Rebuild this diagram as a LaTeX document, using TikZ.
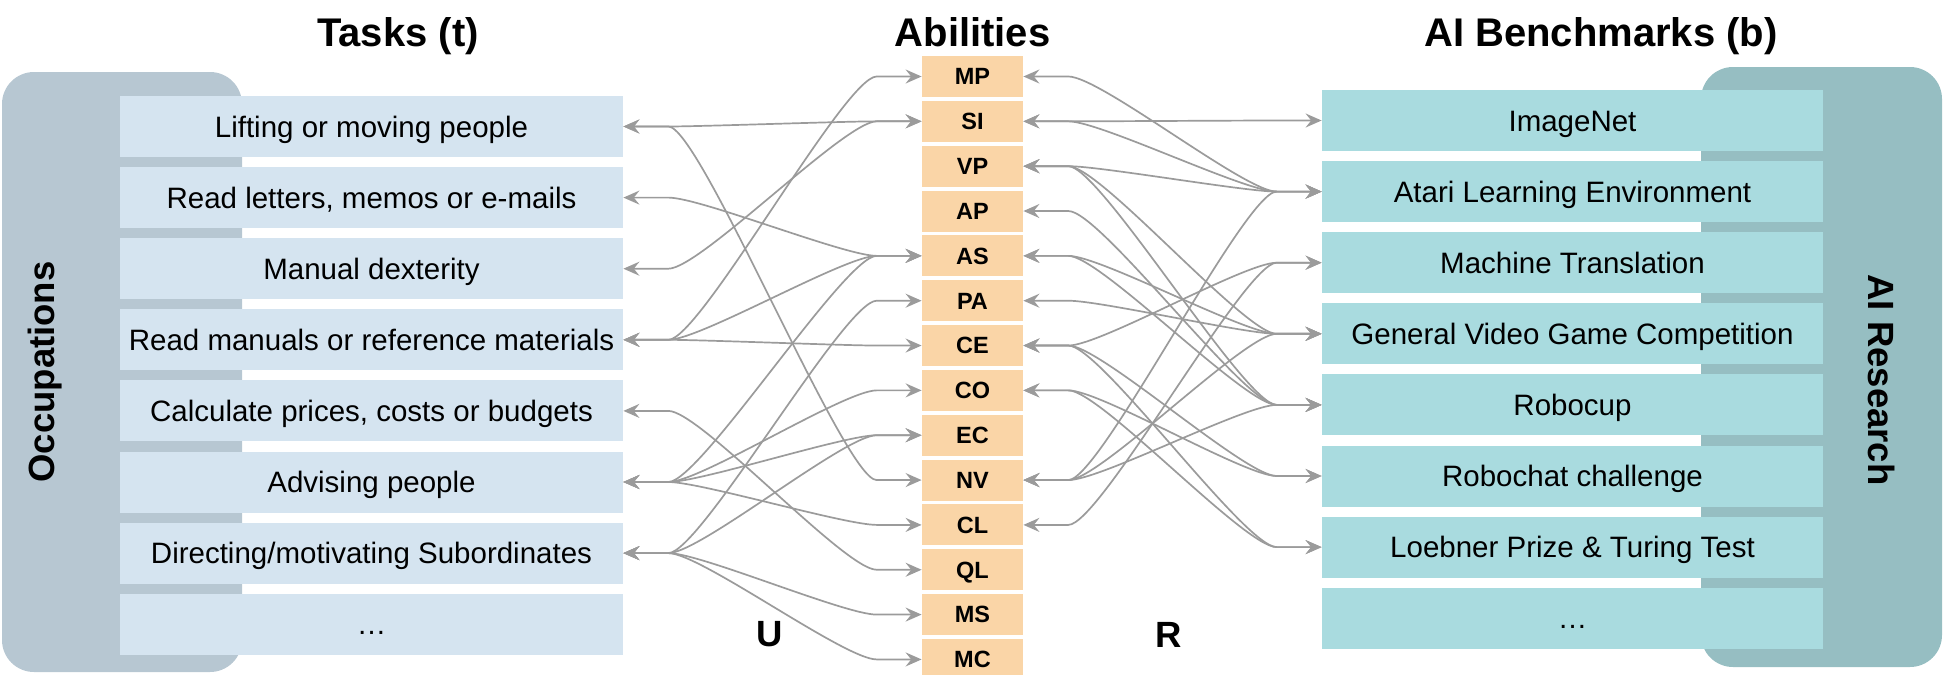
\documentclass[tikz,border=0pt]{standalone}
\usepackage{fontspec}
\setmainfont{Liberation Sans}
\usetikzlibrary{arrows.meta,positioning}

\definecolor{taskblue}{RGB}{213,228,240}
\definecolor{occgray}{RGB}{183,199,210}
\definecolor{abilorange}{RGB}{250,213,167}
\definecolor{benchteal}{RGB}{169,219,223}
\definecolor{airteal}{RGB}{150,190,194}
\definecolor{linkgray}{RGB}{155,155,155}

\begin{document}
\begin{tikzpicture}[
  node distance=4.65pt,
  task/.style={rectangle, fill=taskblue, minimum width=251.5pt, minimum height=30.5pt, inner sep=0pt,
    text height=10.5pt, text depth=0pt, font=\fontsize{14.75}{18}\selectfont},
  bench/.style={task, fill=benchteal, minimum width=250.5pt},
  abil/.style={rectangle, fill=abilorange, minimum width=50.5pt, minimum height=20.5pt, inner sep=0pt,
    text height=8.4pt, text depth=0pt, font=\fontsize{11.75}{14}\selectfont\bfseries},
  title/.style={anchor=base, font=\fontsize{20}{24}\selectfont\bfseries},
  panel/.style={rectangle, rounded corners=16pt, inner sep=0pt},
  side/.style={font=\fontsize{18.25}{22}\selectfont\bfseries},
  link/.style={<->, >={Stealth[length=8pt,width=7pt,inset=2.8pt]}, draw=linkgray, line width=0.85pt,
    to path={-- ++(22.5pt,0) .. controls +(16pt,0) and +(-16pt,0) .. ([xshift=-22.5pt]\tikztotarget) -- (\tikztotarget)}},
]
\useasboundingbox (0,0) rectangle (972.5pt,-337.5pt);

% side panels
\node[panel, fill=occgray, minimum width=120pt, minimum height=300pt] (occ) at (61pt,-186pt) {};
\node[panel, fill=airteal, minimum width=120.5pt, minimum height=300pt] (air) at (910.75pt,-183.5pt) {};
\node[side, rotate=90] (occlabel) at (22.5pt,-186pt) {Occupations};
\node[side, rotate=-90] (airlabel) at (941pt,-190pt) {AI Research};

% titles
\node[title] (ttask) at (199pt,-23.25pt) {Tasks (t)};
\node[title] (tabil) at (486.25pt,-23.25pt) {Abilities};
\node[title] (tbench) at (800.5pt,-23.25pt) {AI Benchmarks (b)};

% tasks
\node[task] (lift) at (185.75pt,-63.25pt) {Lifting or moving people};
\node[task, below=of lift] (letters) {Read letters, memos or e-mails};
\node[task, below=of letters] (dext) {Manual dexterity};
\node[task, below=of dext] (manuals) {Read manuals or reference materials};
\node[task, below=of manuals] (prices) {Calculate prices, costs or budgets};
\node[task, below=of prices] (advise) {Advising people};
\node[task, below=of advise] (direct) {Directing/motivating Subordinates};
\node[task, below=of direct] (tdots) {\dots};

% abilities
\node[abil] (mp) at (486.25pt,-38.25pt) {MP};
\node[abil, below=1.52pt of mp] (si) {SI};
\node[abil, below=1.52pt of si] (vp) {VP};
\node[abil, below=1.52pt of vp] (ap) {AP};
\node[abil, below=1.52pt of ap] (as) {AS};
\node[abil, below=1.52pt of as] (pa) {PA};
\node[abil, below=1.52pt of pa] (ce) {CE};
\node[abil, below=1.52pt of ce] (co) {CO};
\node[abil, below=1.52pt of co] (ec) {EC};
\node[abil, below=1.52pt of ec] (nv) {NV};
\node[abil, below=1.52pt of nv] (cl) {CL};
\node[abil, below=1.52pt of cl] (ql) {QL};
\node[abil, below=1.52pt of ql] (ms) {MS};
\node[abil, below=1.52pt of ms] (mc) {MC};

% benchmarks
\node[bench] (imagenet) at (786.25pt,-60.25pt) {ImageNet};
\node[bench, below=of imagenet] (atari) {Atari Learning Environment};
\node[bench, below=of atari] (mt) {Machine Translation};
\node[bench, below=of mt] (gvgc) {General Video Game Competition};
\node[bench, below=of gvgc] (robocup) {Robocup};
\node[bench, below=of robocup] (robochat) {Robochat challenge};
\node[bench, below=of robochat] (loebner) {Loebner Prize \& Turing Test};
\node[bench, below=of loebner] (bdots) {\dots};

\node[side] (ulabel) at (385pt,-317pt) {U};
\node[side] (rlabel) at (584.5pt,-317.5pt) {R};

% tasks -- abilities
\draw[link] (lift.east) to (si.west);
\draw[link] (lift.east) to (nv.west);
\draw[link] (letters.east) to (as.west);
\draw[link] (dext.east) to (si.west);
\draw[link] (manuals.east) to (mp.west);
\draw[link] (manuals.east) to (as.west);
\draw[link] (manuals.east) to (ce.west);
\draw[link] (prices.east) to (ql.west);
\draw[link] (advise.east) to (as.west);
\draw[link] (advise.east) to (co.west);
\draw[link] (advise.east) to (ec.west);
\draw[link] (advise.east) to (cl.west);
\draw[link] (direct.east) to (pa.west);
\draw[link] (direct.east) to (ec.west);
\draw[link] (direct.east) to (ms.west);
\draw[link] (direct.east) to (mc.west);

% abilities -- benchmarks
\draw[link] (mp.east) to (atari.west);
\draw[link] (si.east) to (imagenet.west);
\draw[link] (si.east) to (atari.west);
\draw[link] (vp.east) to (atari.west);
\draw[link] (vp.east) to (gvgc.west);
\draw[link] (vp.east) to (robocup.west);
\draw[link] (ap.east) to (robocup.west);
\draw[link] (as.east) to (gvgc.west);
\draw[link] (as.east) to (robocup.west);
\draw[link] (pa.east) to (gvgc.west);
\draw[link] (ce.east) to (mt.west);
\draw[link] (ce.east) to (robochat.west);
\draw[link] (ce.east) to (loebner.west);
\draw[link] (co.east) to (robochat.west);
\draw[link] (co.east) to (loebner.west);
\draw[link] (nv.east) to (atari.west);
\draw[link] (nv.east) to (gvgc.west);
\draw[link] (nv.east) to (robocup.west);
\draw[link] (cl.east) to (mt.west);
\end{tikzpicture}
\end{document}
